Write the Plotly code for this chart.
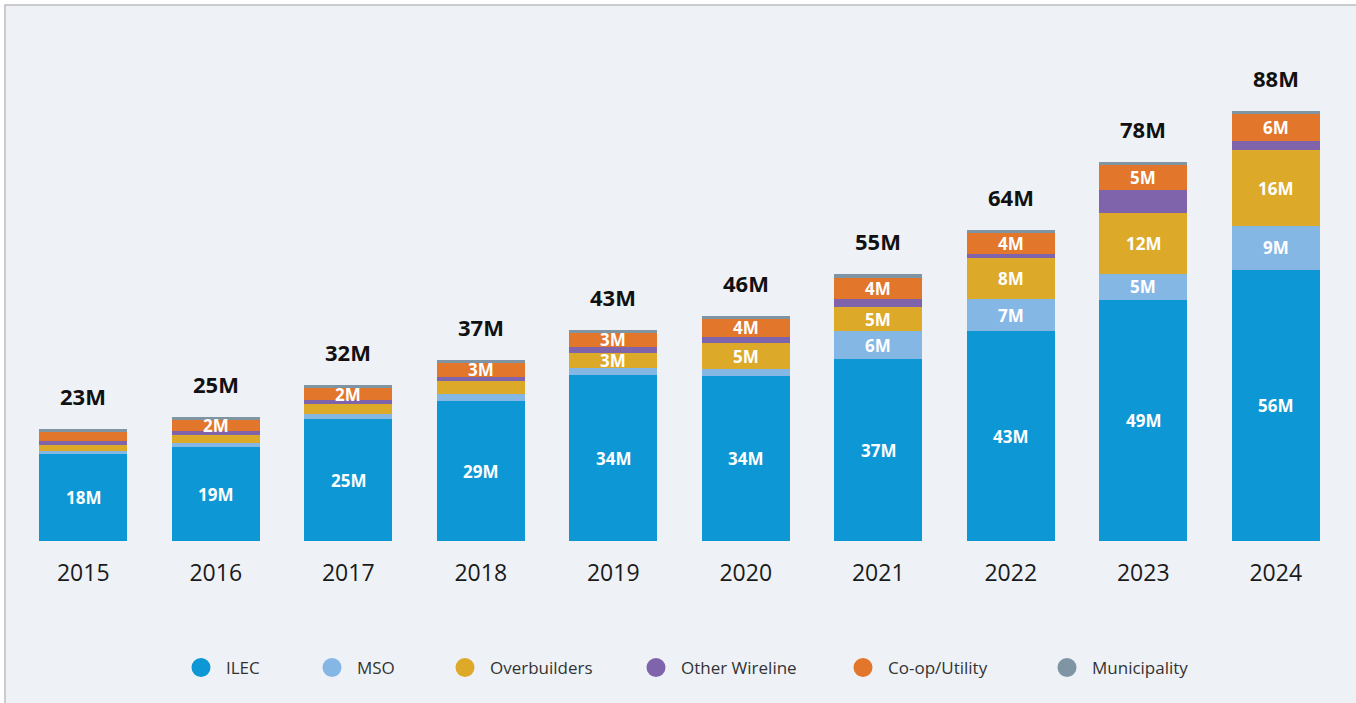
import plotly.graph_objects as go

years = ["2015", "2016", "2017", "2018", "2019", "2020", "2021", "2022", "2023", "2024"]
ilec = [18.0, 19.2, 24.9, 28.6, 34.0, 33.8, 37.2, 43.0, 49.4, 55.6]
mso = [0.4, 0.9, 1.1, 1.5, 1.4, 1.5, 5.8, 6.6, 5.4, 8.9]
overbuilders = [1.2, 1.6, 2.0, 2.7, 3.2, 5.2, 4.9, 8.4, 12.4, 15.6]
other_wireline = [0.9, 0.8, 0.9, 0.9, 1.1, 1.4, 1.6, 0.8, 4.8, 1.8]
coop_utility = [1.8, 2.2, 2.4, 2.7, 3.0, 3.6, 4.4, 4.4, 5.1, 5.6]
municipality = [0.6, 0.7, 0.7, 0.75, 0.5, 0.7, 0.75, 0.55, 0.55, 0.7]

series_names = ["ILEC", "MSO", "Overbuilders", "Other Wireline", "Co-op/Utility", "Municipality"]
series_values = [ilec, mso, overbuilders, other_wireline, coop_utility, municipality]
colors = ["#0E97D5", "#85B7E5", "#DDA928", "#8064AB", "#E2762A", "#7F95A3"]
# first year from which each series' segment carries a value label (None = never)
label_from = [2015, 2021, 2019, None, 2016, None]

BG = "#EEF2F6"
FONT = "Open Sans"

# layout geometry (pixels)
W, H = 1356, 703
ML, MR, MT, MB = 17, 14, 48, 162
PW, PH = W - ML - MR, H - MT - MB
YMAX = PH / 4.88


def px_x(p):
    return (p - ML) / PW


def px_y(p):
    return (H - MB - p) / PH


fig = go.Figure()

for name, vals, col in zip(series_names, series_values, colors):
    fig.add_trace(go.Bar(
        x=years, y=vals, name=name, marker=dict(color=col, line=dict(width=0)),
        showlegend=False, hoverinfo="x+y+name",
    ))

# legend entries (circle markers), one legend each for exact placement
legend_centers = [200, 331, 464, 655, 862, 1066]
for i, (name, col) in enumerate(zip(series_names, colors)):
    lg = "legend" if i == 0 else f"legend{i + 1}"
    fig.add_trace(go.Scatter(
        x=[None], y=[None], mode="markers", name=name,
        marker=dict(symbol="circle", size=20, color=col, line=dict(color=col, width=3)),
        showlegend=True, legend=lg,
    ))

# segment labels
annotations = []
for s, (vals, start) in enumerate(zip(series_values, label_from)):
    for j, yr in enumerate(years):
        base = sum(series_values[k][j] for k in range(s))
        if start is not None and int(yr) >= start:
            annotations.append(dict(
                x=j, y=base + vals[j] / 2, text=f"{round(vals[j])}M",
                showarrow=False, xref="x", yref="y",
                font=dict(family=FONT, size=17, color="white", weight="bold"),
            ))

# totals
for j, yr in enumerate(years):
    total = sum(v[j] for v in series_values)
    annotations.append(dict(
        x=j, y=total, text=f"{round(total)}M", showarrow=False,
        yanchor="middle", yshift=33, xref="x", yref="y",
        font=dict(family=FONT, size=22, color="#111111", weight="bold"),
    ))

legend_layout = {}
for i, c in enumerate(legend_centers):
    key = "legend" if i == 0 else f"legend{i + 1}"
    legend_layout[key] = dict(
        x=px_x(c - 24), xanchor="left", y=px_y(668), yanchor="middle",
        orientation="h", bgcolor="rgba(0,0,0,0)", borderwidth=0,
        itemwidth=40,
        font=dict(family=FONT, size=17, color="#333333"),
    )

fig.update_layout(
    width=W, height=H,
    margin=dict(l=ML, r=MR, t=MT, b=MB),
    barmode="stack", bargap=0.336,
    paper_bgcolor="white", plot_bgcolor="rgba(0,0,0,0)",
    font=dict(family=FONT),
    xaxis=dict(
        type="category", range=[-0.5, 9.5], showgrid=False, zeroline=False,
        showline=False, ticks="", ticklabelstandoff=16,
        tickfont=dict(family=FONT, size=23, color="#1a1a1a"),
    ),
    yaxis=dict(range=[0, YMAX], visible=False, showgrid=False, zeroline=False),
    annotations=annotations,
    shapes=[dict(
        type="rect", xref="paper", yref="paper", layer="below",
        x0=px_x(5), x1=px_x(W + 10), y0=px_y(H + 10), y1=px_y(5),
        fillcolor=BG, line=dict(color="#BDBDBD", width=1.5),
    )],
    **legend_layout,
)

fig.write_html("out.html")
